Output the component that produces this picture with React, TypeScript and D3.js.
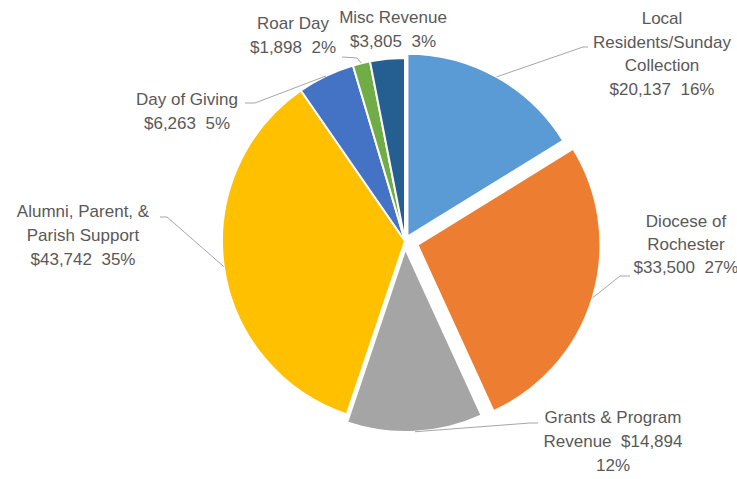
import React from "react";
import * as d3 from "d3";

const categories = [
  "Local Residents/Sunday Collection",
  "Diocese of Rochester",
  "Grants & Program Revenue",
  "Alumni, Parent, & Parish Support",
  "Day of Giving",
  "Roar Day",
  "Misc Revenue",
];
const values = [20137, 33500, 14894, 43742, 6263, 1898, 3805];
const labelLines = [
  ["Local", "Residents/Sunday", "Collection", "$20,137  16%"],
  ["Diocese of", "Rochester", "$33,500  27%"],
  ["Grants & Program", "Revenue  $14,894", "12%"],
  ["Alumni, Parent, &", "Parish Support", "$43,742  35%"],
  ["Day of Giving", "$6,263  5%"],
  ["Roar Day", "$1,898  2%"],
  ["Misc Revenue", "$3,805  3%"],
];
const colors = ["#5B9BD5", "#ED7D31", "#A5A5A5", "#FFC000", "#4472C4", "#70AD47", "#255E91"];

// layout
const W = 737, H = 479;
const CX = 405, CY = 241, R = 183;
const explode = [5, 13, 8, 0, 0, 0, 0];
const labelPos: { x: number; y: number; lh: number; elbow?: [number, number]; end?: [number, number] }[] = [
  { x: 662, y: 24, lh: 23.5, elbow: [583, 47], end: [588, 47] },
  { x: 686, y: 227, lh: 23, elbow: [620, 276], end: [630, 276] },
  { x: 613, y: 423, lh: 24, elbow: [530, 423], end: [538, 423] },
  { x: 83, y: 217, lh: 24, elbow: [167, 217], end: [160, 217] },
  { x: 187, y: 105, lh: 23.5, elbow: [255, 103], end: [245, 103] },
  { x: 293, y: 29, lh: 24, elbow: [357, 58], end: [342, 57] },
  { x: 393, y: 23, lh: 24 },
];

export default function App() {
  const pie = d3.pie<number>().sort(null).value((d) => d)(values);
  const arc = d3.arc<d3.PieArcDatum<number>>().innerRadius(0).outerRadius(R);
  return (
    <svg width={W} height={H} style={{ position: "absolute", left: 0, top: 0, background: "#fff" }}>
      <g>
        {pie.map((p, i) => {
          const mid = (p.startAngle + p.endAngle) / 2;
          const dx = explode[i] * Math.sin(mid);
          const dy = -explode[i] * Math.cos(mid);
          return (
            <path
              key={categories[i]}
              d={arc(p) || ""}
              transform={`translate(${CX + dx},${CY + dy})`}
              fill={colors[i]}
              stroke="#fff"
              strokeWidth={2}
              strokeLinejoin="round"
            />
          );
        })}
      </g>
      <g>
        {pie.map((p, i) => {
          const lp = labelPos[i];
          if (!lp.elbow || !lp.end) return null;
          const mid = (p.startAngle + p.endAngle) / 2;
          const rr = R + explode[i];
          const ax = CX + rr * Math.sin(mid);
          const ay = CY - rr * Math.cos(mid);
          const line = d3.line()([[ax, ay], lp.elbow, lp.end]);
          return <path key={"l" + i} d={line || ""} fill="none" stroke="#A6A6A6" strokeWidth={1} />;
        })}
      </g>
      <g fontFamily="'Liberation Sans', Arial, sans-serif" fontSize={17} fill="#595959">
        {labelLines.map((lines, i) => (
          <text key={"t" + i} textAnchor="middle" style={{ whiteSpace: "pre" }}>
            {lines.map((ln, j) => (
              <tspan key={j} x={labelPos[i].x} y={labelPos[i].y + j * labelPos[i].lh}>
                {ln}
              </tspan>
            ))}
          </text>
        ))}
      </g>
    </svg>
  );
}
